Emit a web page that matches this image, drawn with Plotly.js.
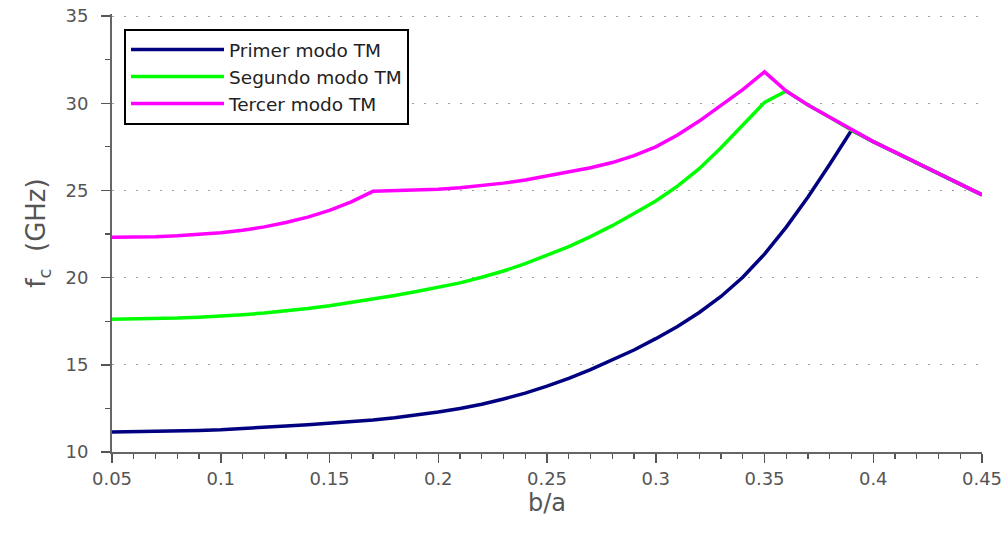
<!DOCTYPE html>
<html>
<head>
<meta charset="utf-8">
<script src="https://cdn.plot.ly/plotly-3.0.1.min.js"></script>
<style>html,body{margin:0;padding:0;background:#fff;}#chart{width:1008px;height:537px;}</style>
</head>
<body>
<div id="chart"></div>
<script>
const ratio = [0.05,0.06,0.07,0.08,0.09,0.10,0.11,0.12,0.13,0.14,0.15,0.16,0.17,0.18,0.19,0.20,0.21,0.22,0.23,0.24,0.25,0.26,0.27,0.28,0.29,0.30,0.31,0.32,0.33,0.34,0.35,0.36,0.37,0.38,0.39,0.40,0.41,0.42,0.43,0.44,0.45];
const modo1 = [11.15,11.16,11.18,11.20,11.24,11.28,11.34,11.41,11.49,11.57,11.65,11.74,11.84,11.97,12.12,12.30,12.50,12.74,13.04,13.38,13.78,14.22,14.72,15.26,15.85,16.50,17.20,18.00,18.92,20.02,21.35,22.90,24.62,26.50,28.45,27.80,27.20,26.60,26.00,25.35,24.75];
const modo2 = [17.62,17.63,17.65,17.68,17.73,17.79,17.87,17.97,18.09,18.23,18.39,18.57,18.77,18.98,19.20,19.43,19.70,20.02,20.38,20.80,21.27,21.78,22.35,22.98,23.68,24.40,25.25,26.25,27.45,28.75,30.05,30.70,29.90,29.20,28.45,27.80,27.20,26.60,26.00,25.35,24.75];
const modo3 = [22.31,22.32,22.35,22.40,22.48,22.58,22.72,22.91,23.16,23.47,23.86,24.35,24.95,24.98,25.02,25.07,25.15,25.27,25.42,25.60,25.82,26.05,26.30,26.60,27.00,27.50,28.18,28.98,29.85,30.78,31.80,30.70,29.90,29.20,28.45,27.80,27.20,26.60,26.00,25.35,24.75];
const seriesNames = ['Primer modo TM','Segundo modo TM','Tercer modo TM'];
const xTicks = [0.05,0.1,0.15,0.2,0.25,0.3,0.35,0.4,0.45];
const xTickText = ['0.05','0.1','0.15','0.2','0.25','0.3','0.35','0.4','0.45'];
const yTicks = [10,15,20,25,30,35];
const yTickText = ['10','15','20','25','30','35'];

const colors = ['#000080','#00ff00','#ff00ff'];
const ys = [modo1, modo2, modo3];
const traces = ys.map((y,i)=>({
  x: ratio, y: y, type:'scatter', mode:'lines', name: seriesNames[i],
  line:{color: colors[i], width:3.5}
}));

const FONT = 'DejaVu Sans, Verdana, sans-serif';
const layout = {
  width:1008, height:537,
  margin:{l:112, r:26, t:14, b:85},
  paper_bgcolor:'#ffffff', plot_bgcolor:'#ffffff',
  font:{family:FONT, color:'#555555', size:18},
  showlegend:true,
  legend:{x:0.0138, y:0.966, xanchor:'left', yanchor:'top',
    bgcolor:'#ffffff', bordercolor:'#000000', borderwidth:2,
    font:{family:FONT, size:18.5, color:'#222222'}, itemwidth:93, tracegroupgap:0},
  xaxis:{
    range:[0.05,0.45], tickvals:xTicks, ticktext:xTickText,
    showgrid:false, zeroline:false, showline:true, linecolor:'#666666', linewidth:2,
    ticks:'outside', ticklen:9, tickwidth:1.5, tickcolor:'#555555',
    minor:{dtick:0.01, tick0:0.05, ticks:'outside', ticklen:5, tickwidth:1.2, tickcolor:'#555555', showgrid:false},
    tickfont:{family:FONT, size:18, color:'#555555'},
    title:{text:'b/a', font:{family:FONT, size:24, color:'#555555'}, standoff:0}
  },
  yaxis:{
    range:[10,35.12], tickvals:yTicks, ticktext:yTickText,
    showgrid:true, gridcolor:'#a0a0a0', gridwidth:1, griddash:'2px,10px',
    zeroline:false, showline:true, linecolor:'#666666', linewidth:2,
    ticks:'outside', ticklen:9, tickwidth:1.5, tickcolor:'#555555', ticklabelstandoff:9,
    minor:{dtick:2.5, tick0:10, ticks:'outside', ticklen:5, tickwidth:1.2, tickcolor:'#555555', showgrid:false},
    tickfont:{family:FONT, size:18, color:'#555555'},
    title:{text:'f<sub>c</sub>  (GHz)', font:{family:FONT, size:26, color:'#555555'}, standoff:12}
  }
};
Plotly.newPlot('chart', traces, layout, {displayModeBar:false, staticPlot:true});
</script>
</body>
</html>
